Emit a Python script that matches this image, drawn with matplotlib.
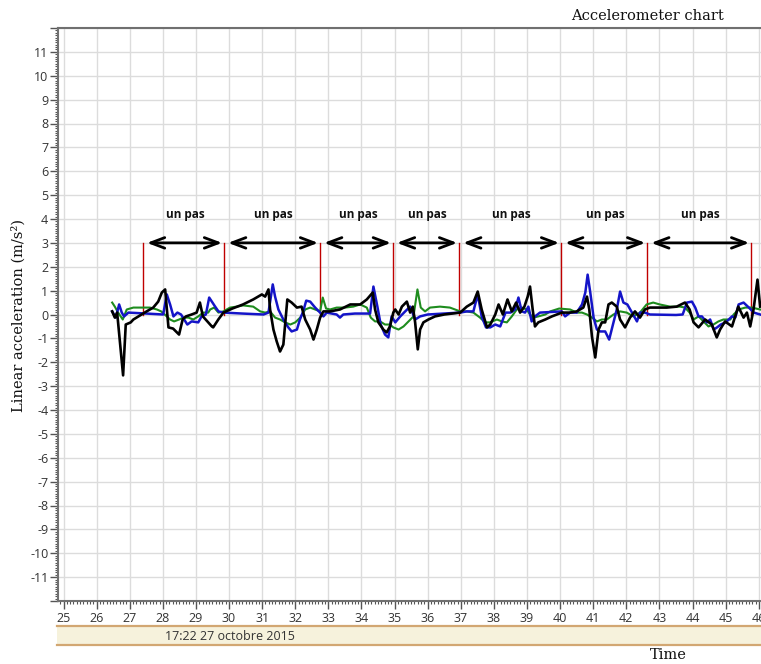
import matplotlib
matplotlib.use("Agg")
import matplotlib.pyplot as plt
from matplotlib.ticker import MultipleLocator
from matplotlib.patches import Rectangle
from matplotlib.lines import Line2D

plt.rcParams['axes.unicode_minus'] = False

# ---------------- data ----------------
black_t = [26.47, 26.55, 26.62, 26.80, 26.88, 27.03, 27.11, 27.31, 27.51, 27.71, 27.86, 27.97, 28.07, 28.17,
           28.31, 28.49, 28.60, 28.70, 28.87, 29.02, 29.12, 29.21, 29.37, 29.48, 29.52, 29.68, 29.83, 30.10,
           30.42, 30.73, 30.99, 31.09, 31.19, 31.24, 31.34, 31.44, 31.54, 31.64, 31.76, 31.89, 32.05, 32.19,
           32.30, 32.45, 32.55, 32.65, 32.75, 32.85, 33.05, 33.35, 33.66, 33.96, 34.16, 34.34, 34.41, 34.51,
           34.66, 34.76, 34.86, 34.96, 35.02, 35.12, 35.22, 35.37, 35.47, 35.55, 35.62, 35.70, 35.77, 35.87,
           36.02, 36.22, 36.50, 36.98, 37.18, 37.38, 37.51, 37.63, 37.79, 37.89, 38.04, 38.14, 38.27, 38.41,
           38.54, 38.67, 38.79, 38.92, 39.02, 39.09, 39.17, 39.24, 39.34, 39.55, 39.75, 40.05, 40.30, 40.50,
           40.70, 40.81, 40.88, 40.96, 41.06, 41.16, 41.26, 41.36, 41.46, 41.56, 41.71, 41.81, 41.96, 42.11,
           42.26, 42.41, 42.56, 42.71, 43.00, 43.22, 43.52, 43.77, 43.91, 44.03, 44.18, 44.38, 44.58, 44.73,
           44.83, 44.98, 45.19, 45.38, 45.54, 45.64, 45.74, 45.84, 45.96, 46.04]
black_a = [0.13, -0.13, 0.08, -2.55, -0.42, -0.33, -0.21, -0.04, 0.13, 0.29, 0.54, 0.92, 1.05, -0.54,
           -0.59, -0.84, -0.20, -0.08, 0.00, 0.08, 0.50, -0.08, -0.33, -0.50, -0.54, -0.20, 0.08, 0.25,
           0.42, 0.63, 0.84, 0.75, 1.05, 0.21, -0.63, -1.13, -1.55, -1.26, 0.63, 0.50, 0.29, 0.33,
           -0.21, -0.63, -1.05, -0.63, -0.13, 0.13, 0.13, 0.21, 0.42, 0.42, 0.63, 0.92, 0.21, -0.33,
           -0.63, -0.75, -0.50, 0.08, 0.21, 0.00, 0.33, 0.54, 0.08, 0.33, -0.33, -1.46, -0.63, -0.33,
           -0.21, -0.08, 0.00, 0.08, 0.33, 0.50, 0.96, 0.21, -0.54, -0.42, 0.00, 0.42, 0.00, 0.63,
           0.13, 0.50, 0.08, 0.33, 0.75, 1.17, 0.21, -0.50, -0.33, -0.21, -0.08, 0.08, 0.08, 0.13,
           0.29, 0.75, 0.21, -0.92, -1.80, -0.63, -0.33, -0.33, 0.42, 0.50, 0.33, -0.21, -0.54, -0.13,
           0.13, -0.13, 0.21, 0.29, 0.29, 0.29, 0.33, 0.50, 0.21, -0.33, -0.54, -0.21, -0.42, -0.96,
           -0.63, -0.29, -0.50, 0.33, -0.13, 0.08, -0.50, 0.21, 1.46, 0.33]

blue_t = [26.47, 26.58, 26.68, 26.76, 26.83, 26.96, 27.50, 28.01, 28.12, 28.22, 28.32, 28.44, 28.55, 28.74,
          28.87, 29.07, 29.17, 29.30, 29.40, 29.58, 29.68, 29.83, 30.40, 31.04, 31.19, 31.32, 31.39, 31.49,
          31.64, 31.79, 31.89, 32.05, 32.14, 32.24, 32.33, 32.45, 32.60, 32.75, 32.85, 32.95, 33.25, 33.35,
          33.45, 33.80, 34.26, 34.36, 34.48, 34.58, 34.71, 34.81, 34.91, 35.02, 35.17, 35.32, 35.47, 35.62,
          35.77, 36.00, 36.98, 37.18, 37.38, 37.51, 37.63, 37.76, 37.89, 38.04, 38.19, 38.35, 38.50, 38.64,
          38.74, 38.84, 38.94, 39.04, 39.14, 39.24, 39.39, 40.05, 40.15, 40.30, 40.50, 40.66, 40.76, 40.83,
          40.91, 41.01, 41.11, 41.21, 41.36, 41.48, 41.58, 41.71, 41.81, 41.91, 42.03, 42.17, 42.32, 42.41,
          42.56, 42.71, 43.50, 43.70, 43.83, 43.98, 44.08, 44.18, 44.28, 44.43, 44.53, 44.64, 44.74, 44.85,
          45.00, 45.19, 45.29, 45.39, 45.54, 45.70, 45.85, 46.04]
blue_a = [0.13, -0.13, 0.42, 0.08, -0.08, 0.08, 0.04, 0.00, 0.84, 0.42, -0.08, 0.08, 0.00, -0.42,
          -0.29, -0.33, -0.08, 0.00, 0.71, 0.33, 0.13, 0.08, 0.04, 0.00, 0.08, 1.26, 0.75, 0.21,
          -0.21, -0.54, -0.71, -0.63, -0.21, 0.13, 0.58, 0.54, 0.29, 0.08, -0.08, 0.08, 0.00, -0.13,
          0.00, 0.04, 0.04, 1.17, 0.33, -0.42, -0.84, -0.96, -0.08, -0.33, -0.08, 0.13, 0.33, -0.21,
          -0.08, 0.00, 0.08, 0.13, 0.13, 0.84, -0.08, -0.54, -0.54, -0.42, -0.50, 0.08, 0.08, 0.21,
          0.71, 0.13, 0.08, 0.33, -0.29, -0.08, 0.08, 0.13, -0.08, 0.08, 0.08, 0.42, 0.92, 1.67,
          0.92, -0.13, -0.63, -0.71, -0.71, -1.05, -0.50, 0.21, 0.96, 0.50, 0.42, 0.08, -0.29, 0.08,
          0.08, 0.00, -0.02, 0.00, 0.50, 0.54, 0.29, -0.08, -0.08, -0.33, -0.21, -0.63, -0.54, -0.42,
          -0.33, -0.08, -0.13, 0.42, 0.50, 0.29, 0.08, 0.00]

green_t = [26.47, 26.55, 26.65, 26.79, 26.91, 27.11, 27.40, 27.61, 27.82, 27.95, 28.12, 28.22, 28.34, 28.49,
           28.62, 28.77, 28.92, 29.07, 29.22, 29.37, 29.43, 29.55, 29.68, 29.83, 30.03, 30.23, 30.43, 30.73,
           30.94, 31.09, 31.24, 31.39, 31.54, 31.69, 31.85, 32.00, 32.15, 32.30, 32.45, 32.60, 32.75, 32.83,
           32.93, 33.05, 33.25, 33.50, 33.75, 33.96, 34.16, 34.28, 34.41, 34.56, 34.71, 34.86, 34.96, 35.12,
           35.27, 35.42, 35.57, 35.69, 35.79, 35.92, 36.07, 36.37, 36.67, 36.98, 37.18, 37.38, 37.58, 37.73,
           37.88, 38.09, 38.24, 38.39, 38.54, 38.69, 38.84, 38.99, 39.09, 39.19, 39.34, 39.55, 39.70, 39.97,
           40.30, 40.50, 40.66, 40.81, 40.96, 41.11, 41.26, 41.41, 41.61, 41.81, 42.01, 42.21, 42.41, 42.61,
           42.81, 43.01, 43.32, 43.62, 43.77, 43.91, 44.03, 44.18, 44.33, 44.48, 44.63, 44.78, 44.93, 45.14,
           45.24, 45.39, 45.59, 45.79, 46.04]
green_a = [0.50, 0.33, 0.08, -0.21, 0.21, 0.29, 0.29, 0.29, 0.21, 0.13, -0.08, -0.21, -0.29, -0.21,
           -0.13, -0.13, -0.21, -0.08, 0.08, 0.08, 0.21, 0.29, 0.08, 0.13, 0.29, 0.33, 0.38, 0.33,
           0.13, 0.08, 0.13, -0.13, -0.21, -0.33, -0.42, -0.33, -0.13, 0.21, 0.29, 0.21, 0.13, 0.71,
           0.25, 0.21, 0.29, 0.29, 0.33, 0.42, 0.29, -0.13, -0.29, -0.29, -0.42, -0.42, -0.54, -0.63,
           -0.50, -0.29, -0.08, 1.05, 0.29, 0.13, 0.29, 0.33, 0.29, 0.13, 0.13, 0.08, -0.13, -0.33,
           -0.33, -0.21, -0.29, -0.33, -0.08, 0.21, 0.29, 0.21, 0.00, -0.13, -0.08, 0.00, 0.13, 0.25,
           0.21, 0.08, 0.08, 0.00, -0.13, -0.29, -0.21, -0.21, 0.00, 0.13, 0.08, -0.08, 0.08, 0.42,
           0.50, 0.42, 0.33, 0.33, 0.29, 0.08, -0.21, -0.08, -0.29, -0.50, -0.42, -0.29, -0.21, -0.21,
           0.00, 0.21, 0.29, 0.29, 0.21]

step_bounds = [27.40, 29.85, 32.75, 34.95, 36.95, 40.03, 42.63, 45.77]
step_label = "un pas"
marker_level = 3.0
label_level = 4.2

y_ticks = list(range(-12, 13))
x_ticks = list(range(25, 47))

# ---------------- figure ----------------
W, H = 761, 664
fig = plt.figure(figsize=(W / 100, H / 100), dpi=100)
fig.patch.set_facecolor('white')

ax_left, ax_top, ax_bottom = 58, 28, 601
ax = fig.add_axes([ax_left / W, 1 - ax_bottom / H, 1 - ax_left / W + 0.02, (ax_bottom - ax_top) / H])
x_per_px = 1 / 33.1
ax.set_xlim(25 + (ax_left - 63.5) * x_per_px, 25 + (W + 15 - 63.5) * x_per_px)
ax.set_ylim(-12, 12)

ax.set_xticks(x_ticks)
ax.set_yticks(y_ticks)
ax.set_yticklabels([str(v) if abs(v) < 12 else '' for v in y_ticks])
ax.xaxis.set_minor_locator(MultipleLocator(0.1))
ax.yaxis.set_minor_locator(MultipleLocator(0.1))
ax.tick_params(axis='both', which='major', direction='out', length=6, width=1, color='#555555',
               labelsize=9, labelcolor='#333333')
ax.tick_params(axis='both', which='minor', direction='out', length=2.5, width=0.8, color='#555555')
ax.tick_params(axis='x', which='major', pad=2)
ax.tick_params(axis='y', which='major', pad=1)
for lab in ax.get_xticklabels() + ax.get_yticklabels():
    lab.set_fontfamily('Open Sans')

ax.grid(True, which='major', color='#dcdcdc', linewidth=1)
ax.set_axisbelow(True)
for s in ['left', 'bottom', 'top']:
    ax.spines[s].set_color('#707070')
    ax.spines[s].set_linewidth(1.5)
ax.spines['right'].set_visible(False)

# series
ax.plot(green_t, green_a, color='#1e8c1e', lw=1.5, zorder=3)
ax.plot(blue_t, blue_a, color='#1414c8', lw=1.8, zorder=4)
ax.plot(black_t, black_a, color='#000000', lw=1.9, zorder=5)

# step markers
for b in step_bounds:
    ax.plot([b, b], [0, marker_level], color='#c00000', lw=1, zorder=2)
for a, b in zip(step_bounds[:-1], step_bounds[1:]):
    ax.annotate('', xy=(b - 0.06, marker_level), xytext=(a + 0.12, marker_level),
                arrowprops=dict(arrowstyle='<->,head_length=1.0,head_width=0.38', color='black', lw=2,
                                shrinkA=0, shrinkB=0), zorder=6)
    ax.text((a + b) / 2 + 0.05, label_level, step_label, ha='center', va='center', fontsize=8.5,
            fontweight='bold', family='Open Sans', color='#111111', zorder=6)

# date band
band_l = 57 / W
band_b = 1 - 645 / H
band_t = 1 - 626 / H
fig.patches.append(Rectangle((band_l, band_b), 1 - band_l, band_t - band_b, transform=fig.transFigure,
                             facecolor='#f6f2dc', edgecolor='none', zorder=1))
for yy in (band_b, band_t):
    fig.lines.append(Line2D([band_l, 1], [yy, yy], transform=fig.transFigure, color='#d2a772', lw=1.6))
fig.text(230 / W, 1 - 636 / H, '17:22 27 octobre 2015', ha='center', va='center', fontsize=9,
         family='Open Sans', color='#333333')

fig.text(647 / W, 1 - 16 / H, 'Accelerometer chart', ha='center', va='center', fontsize=10.5,
         family='DejaVu Serif', color='#111111')
fig.text(668 / W, 1 - 655 / H, 'Time', ha='center', va='center', fontsize=10.5,
         family='DejaVu Serif', color='#111111')
fig.text(18 / W, 1 - 315 / H, 'Linear acceleration (m/s²)', ha='center', va='center', rotation=90,
         fontsize=10.5, family='DejaVu Serif', color='#111111')

fig.savefig('out.png', dpi=100)
